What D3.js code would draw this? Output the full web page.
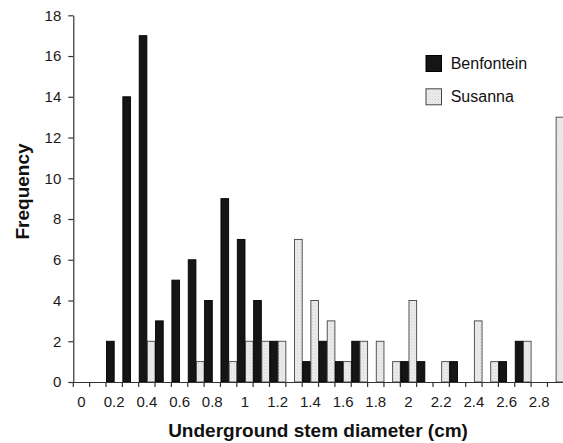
<!DOCTYPE html>
<html>
<head>
<meta charset="utf-8">
<script src="https://cdn.jsdelivr.net/npm/d3@7/dist/d3.min.js"></script>
<style>
  html, body { margin: 0; padding: 0; background: #fff; }
  svg { display: block; }
  text { font-family: "Liberation Sans", Arial, Helvetica, sans-serif; }
</style>
</head>
<body>
<svg id="chart" width="563" height="443"></svg>
<script>
// ---- data ----
const categories = ["0","0.1","0.2","0.3","0.4","0.5","0.6","0.7","0.8","0.9",
                    "1","1.1","1.2","1.3","1.4","1.5","1.6","1.7","1.8","1.9",
                    "2","2.1","2.2","2.3","2.4","2.5","2.6","2.7","2.8","2.9"];
const benfontein = [0,0,2,14,17,3,5,6,4,9,7,4,2,0,1,2,1,2,0,0,1,1,0,1,0,0,1,2,0,0];
const susanna    = [0,0,0,0,2,0,0,1,0,1,2,2,2,7,4,3,1,2,2,1,4,0,1,0,3,1,0,2,0,13];
const seriesNames = ["Benfontein", "Susanna"];
const yTicks = [0,2,4,6,8,10,12,14,16,18];
const xTickLabels = ["0","0.2","0.4","0.6","0.8","1","1.2","1.4","1.6","1.8","2","2.2","2.4","2.6","2.8"];
const xTitle = "Underground stem diameter (cm)";
const yTitle = "Frequency";

// ---- layout ----
const svg = d3.select("#chart");
const plotLeft = 73.3, plotBottom = 382, plotTop = 15.3;
const step = 16.35;
const plotRight = plotLeft + step * categories.length;

const x = d3.scaleBand().domain(categories).range([plotLeft, plotRight]).padding(0);
const xs = d3.scaleBand().domain(seriesNames).range([0, x.bandwidth()]).padding(0);
const y = d3.scaleLinear().domain([0, 18]).range([plotBottom, plotTop]);

// pattern for Susanna bars
const defs = svg.append("defs");
const pat = defs.append("pattern").attr("id", "dots")
  .attr("width", 3).attr("height", 3).attr("patternUnits", "userSpaceOnUse");
pat.append("rect").attr("width", 3).attr("height", 3).attr("fill", "#ececec");
pat.append("rect").attr("x", 0).attr("y", 0).attr("width", 1).attr("height", 1).attr("fill", "#d2d2d2");
pat.append("rect").attr("x", 1.5).attr("y", 1.5).attr("width", 1).attr("height", 1).attr("fill", "#dcdcdc");

const fills = { "Benfontein": "#151515", "Susanna": "url(#dots)" };
const strokes = { "Benfontein": "#000", "Susanna": "#444" };

const rows = [];
categories.forEach((c, i) => {
  rows.push({ cat: c, series: "Benfontein", value: benfontein[i] });
  rows.push({ cat: c, series: "Susanna", value: susanna[i] });
});

// bars
svg.append("g").selectAll("rect")
  .data(rows.filter(d => d.value > 0))
  .join("rect")
  .attr("x", d => x(d.cat) + xs(d.series) + 0.5)
  .attr("y", d => y(d.value))
  .attr("width", xs.bandwidth() - 0.5)
  .attr("height", d => y(0) - y(d.value))
  .attr("fill", d => fills[d.series])
  .attr("stroke", d => strokes[d.series])
  .attr("stroke-width", 0.9);

// x axis: labels at band centers (every other category)
const xAxis = d3.axisBottom(x)
  .tickValues(xTickLabels)
  .tickSize(0)
  .tickPadding(14.5)
  .tickSizeOuter(0);
const gx = svg.append("g").attr("transform", `translate(0,${plotBottom})`).call(xAxis);
gx.select(".domain").attr("stroke", "#333").attr("stroke-width", 1.2);
gx.selectAll(".tick text").attr("font-size", 15).attr("fill", "#1a1a1a")
  .attr("font-family", "'Liberation Sans', Arial, sans-serif");

// x tick marks at category boundaries
const bounds = categories.map(c => x(c)).concat([x.range()[1]]);
svg.append("g").selectAll("line")
  .data(bounds)
  .join("line")
  .attr("x1", d => d).attr("x2", d => d)
  .attr("y1", plotBottom).attr("y2", plotBottom + 5)
  .attr("stroke", "#333").attr("stroke-width", 1.2);

// y axis
const yAxis = d3.axisLeft(y).tickValues(yTicks).tickSize(5).tickPadding(7).tickSizeOuter(0);
const gy = svg.append("g").attr("transform", `translate(${plotLeft},0)`).call(yAxis);
gy.select(".domain").attr("stroke", "#333").attr("stroke-width", 1.2);
gy.selectAll(".tick line").attr("stroke", "#333").attr("stroke-width", 1.2);
gy.selectAll(".tick text").attr("font-size", 15).attr("fill", "#1a1a1a")
  .attr("font-family", "'Liberation Sans', Arial, sans-serif");

// titles
svg.append("text")
  .attr("x", (plotLeft + plotRight) / 2 - 0.5)
  .attr("y", 436.5)
  .attr("text-anchor", "middle")
  .attr("font-size", 19).attr("font-weight", "bold").attr("fill", "#111")
  .text(xTitle);

svg.append("text")
  .attr("transform", `translate(29.3,${191.5}) rotate(-90)`)
  .attr("text-anchor", "middle")
  .attr("font-size", 19).attr("font-weight", "bold").attr("fill", "#111")
  .text(yTitle);

// legend
const legend = svg.append("g");
seriesNames.forEach((s, i) => {
  const ly = 55.5 + i * 33.3;
  legend.append("rect")
    .attr("x", 426).attr("y", ly)
    .attr("width", 15.5).attr("height", 16)
    .attr("fill", fills[s]).attr("stroke", strokes[s]).attr("stroke-width", 1);
  legend.append("text")
    .attr("x", 450.7).attr("y", ly + 13)
    .attr("font-size", 16).attr("fill", "#111")
    .text(s);
});
</script>
</body>
</html>
